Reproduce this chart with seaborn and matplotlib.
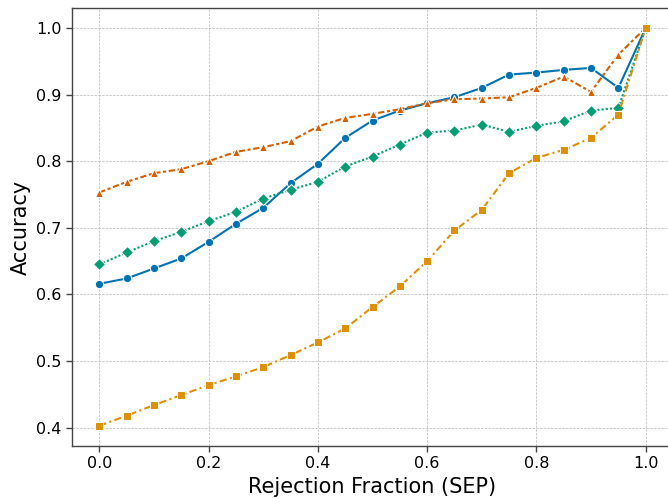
import matplotlib
matplotlib.use("Agg")
import matplotlib.pyplot as plt
import numpy as np
import pandas as pd
import seaborn as sns

# Rejection fraction (x axis)
rejection = [0.00, 0.05, 0.10, 0.15, 0.20, 0.25, 0.30, 0.35, 0.40, 0.45, 0.50,
             0.55, 0.60, 0.65, 0.70, 0.75, 0.80, 0.85, 0.90, 0.95, 1.00]

# Accuracy of each method after rejecting the given fraction
acc_circle = [0.616, 0.624, 0.639, 0.654, 0.679, 0.706, 0.730, 0.767, 0.796, 0.835, 0.861,
              0.876, 0.887, 0.896, 0.910, 0.930, 0.933, 0.937, 0.940, 0.910, 1.000]
acc_triangle = [0.753, 0.769, 0.782, 0.788, 0.800, 0.814, 0.821, 0.830, 0.852, 0.865, 0.871,
                0.878, 0.887, 0.893, 0.894, 0.896, 0.910, 0.927, 0.904, 0.960, 1.000]
acc_diamond = [0.645, 0.663, 0.680, 0.694, 0.710, 0.724, 0.744, 0.757, 0.769, 0.792, 0.807,
               0.825, 0.843, 0.846, 0.855, 0.844, 0.853, 0.860, 0.876, 0.880, 1.000]
acc_square = [0.403, 0.418, 0.434, 0.449, 0.464, 0.477, 0.491, 0.509, 0.528, 0.549, 0.581,
              0.612, 0.650, 0.696, 0.727, 0.782, 0.805, 0.817, 0.835, 0.870, 1.000]

methods = ["M1", "M2", "M3", "M4"]
series = [acc_circle, acc_triangle, acc_diamond, acc_square]

df = pd.concat(
    [pd.DataFrame({"rejection": rejection, "accuracy": vals, "method": name})
     for name, vals in zip(methods, series)],
    ignore_index=True,
)

sns.set_theme(style="ticks", rc={
    "axes.grid": True,
    "grid.linestyle": "--",
    "grid.color": "#b8b8b8",
    "grid.linewidth": 0.5,
    "axes.edgecolor": "#444444",
    "axes.linewidth": 1.0,
    "axes.labelcolor": "black",
    "text.color": "black",
    "xtick.color": "#444444",
    "ytick.color": "#444444",
    "xtick.labelcolor": "black",
    "ytick.labelcolor": "black",
})
plt.rcParams["font.family"] = ["DejaVu Sans"]

cb = sns.color_palette("colorblind")
palette = {"M1": cb[0], "M2": cb[3], "M3": cb[2], "M4": cb[1]}
markers = {"M1": "o", "M2": "^", "M3": "D", "M4": "s"}
dashes = {"M1": "", "M2": (3, 1.25, 1.5, 1.25), "M3": (1, 1), "M4": (3.5, 1.6, 1, 1.6)}

fig = plt.figure(figsize=(6.68, 4.98), dpi=100)
ax = fig.add_axes([72 / 668, 52 / 498, 601 / 668, 438 / 498])

sns.lineplot(data=df, x="rejection", y="accuracy", hue="method", style="method",
             hue_order=methods, style_order=methods, palette=palette,
             markers=markers, dashes=dashes, linewidth=1.5, markersize=6,
             legend=False, ax=ax)

ax.set_xlabel("Rejection Fraction (SEP)", fontsize=15)
ax.set_ylabel("Accuracy", fontsize=15)
ax.tick_params(axis="both", labelsize=11.5, length=4, width=1)
ax.set_xticks([0.0, 0.2, 0.4, 0.6, 0.8, 1.0])
ax.set_yticks([0.4, 0.5, 0.6, 0.7, 0.8, 0.9, 1.0])
ax.set_xlim(-0.05, 1.05)
ax.set_ylim(0.3726, 1.0299)

fig.savefig("out.png", dpi=100)
